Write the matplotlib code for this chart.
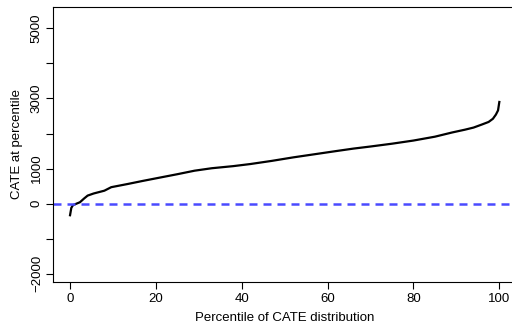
import matplotlib
matplotlib.use('Agg')
from matplotlib import pyplot as plt

# percentile of CATE distribution vs CATE value
percentile = [0, 0.3, 0.7, 1.5, 2.3, 3.3, 4.1, 5.5, 8, 9.6, 13.4, 17, 21.2, 25, 29,
              33, 38, 42, 47, 52, 57, 62, 66, 70, 75, 80, 85, 89, 92, 94, 96,
              97.5, 98.5, 99.2, 99.7, 100]
cate = [-330, -120, -40, 0, 40, 150, 230, 290, 370, 470, 560, 650, 750, 840, 940,
        1010, 1070, 1130, 1220, 1320, 1410, 1500, 1570, 1630, 1710, 1800, 1910,
        2030, 2110, 2170, 2260, 2330, 2420, 2540, 2660, 2900]

y_ticks = [-2000, -1000, 0, 1000, 2000, 3000, 4000, 5000]
y_labels = ['\u22122000', '', '0', '1000', '', '3000', '', '5000']
x_ticks = [0, 20, 40, 60, 80, 100]

plt.rcParams['font.family'] = ['Liberation Sans', 'DejaVu Sans']

W, H = 512, 323
fig = plt.figure(figsize=(W / 100, H / 100), dpi=100)
left, right, top, bottom = 53.3, 516.5, 6.7, 281.5
ax = fig.add_axes([left / W, (H - bottom) / H, (right - left) / W, (bottom - top) / H])

ax.plot(percentile, cate, color='black', lw=1.6)
ax.axhline(0, color='#4a4aff', lw=1.8, ls=(0, (3.2, 2.4)))

ax.set_xlim(-3.9, 104)
ax.set_ylim(-2220, 5617)

ax.set_xticks(x_ticks)
ax.set_yticks(y_ticks)
ax.set_yticklabels(y_labels, rotation=90, va='center')
ax.tick_params(direction='out', length=5, width=0.8, labelsize=9.5, colors='black')
ax.tick_params(axis='x', pad=3)
ax.tick_params(axis='y', pad=2.5)
ax.spines['right'].set_visible(False)
for s in ax.spines.values():
    s.set_linewidth(0.8)

ax.set_xlabel('Percentile of CATE distribution', fontsize=9.5, labelpad=5)
ax.set_ylabel('CATE at percentile', fontsize=9.5, labelpad=6)

fig.savefig('out.png', dpi=100)
